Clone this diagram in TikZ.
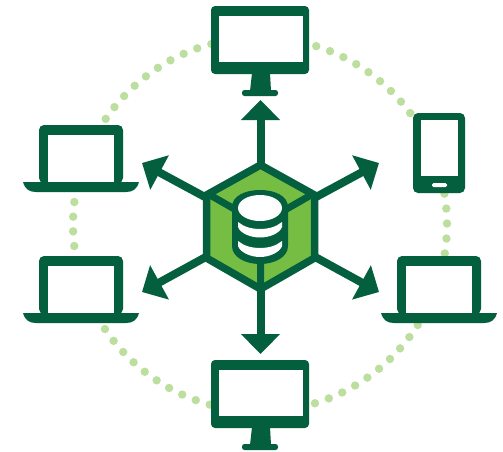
\documentclass[tikz,border=0pt]{standalone}
\usetikzlibrary{arrows.meta}
\definecolor{darkg}{HTML}{045F3F}
\definecolor{midg}{HTML}{76BE43}
\definecolor{dotg}{HTML}{BCDF9F}
\tikzset{
  x=1pt,y=-1pt,
  solid dark/.style={fill=darkg,draw=none},
  screen/.style={fill=white,draw=none},
  dotmark/.style={fill=dotg,draw=none},
  spoke/.style={draw=darkg,line width=8pt,-{Triangle[length=20pt,width=38pt]}},
  hexline/.style={draw=darkg,line width=7.5pt,line join=miter},
  monitor/.pic={
    \fill[solid dark,rounded corners=4pt] (0,0) rectangle (98,68);
    \fill[screen] (8,10) rectangle (92,56);
    \fill[solid dark] (41,67) -- (59,67) -- (60,85) -- (39,85) -- cycle;
    \fill[solid dark,rounded corners=2.5pt] (31,84) rectangle (67,90);
  },
  laptop/.pic={
    \fill[solid dark,rounded corners=5pt] (0,58) -- (0,0) -- (84,0) -- (84,58) -- cycle;
    \fill[screen] (9,10) rectangle (75,58);
    \fill[solid dark] (-16,57) -- (100,57) .. controls (98,64) and (94,67) .. (87,67) -- (-3,67) .. controls (-10,67) and (-14,64) .. (-16,57) -- cycle;
  }
}
\newcommand{\ringdots}[3]{% start angle, step, last index
  \foreach \k in {0,...,#3}{
    \pgfmathsetmacro{\ang}{#1+#2*\k}
    \fill[dotmark] ({260+187*cos(\ang)},{224.5+187*sin(\ang)}) circle (4.2);
  }
}
\begin{document}
\begin{tikzpicture}
\useasboundingbox (0,0) rectangle (503,451);
\fill[white] (0,0) rectangle (503,451);
% dotted ring
\ringdots{-9.5}{4.6}{4}
\ringdots{32.5}{4.49}{10}
\ringdots{105.6}{4.49}{9}
\ringdots{173.4}{4.5}{3}
\ringdots{214.4}{4.5}{9}
\ringdots{-72.5}{4.49}{8}
% arrows
\coordinate (hub) at (260.5,227);
\coordinate (n) at (260.5,100);
\coordinate (s) at (260.5,354);
\coordinate (ne) at (379,163);
\coordinate (se) at (379,292);
\coordinate (nw) at (142,163);
\coordinate (sw) at (142,292);
\foreach \e in {n,s,ne,se,nw,sw}{
  \draw[spoke] (hub) -- (\e);
}
% hexagon
\draw[hexline,fill=midg] (260.5,165) -- (314.5,195) -- (314.5,258) -- (260.5,289) -- (206.5,258) -- (206.5,195) -- cycle;
\draw[hexline,line width=7pt] (206.5,193) -- (260.5,224) -- (314.5,193) (260.5,224) -- (260.5,289);
% database
\fill[solid dark] (232,207) .. controls (232,196) and (245,190) .. (260,190) .. controls (275,190) and (288,196) .. (288,207) -- (288,246) .. controls (288,257) and (275,264) .. (260,264) .. controls (245,264) and (232,257) .. (232,246) -- cycle;
\fill[screen] (260,208) ellipse (22 and 13);
\fill[screen] (238,222) .. controls (244,227) and (252,229) .. (260,229) .. controls (268,229) and (276,227) .. (282,222) -- (282,227) .. controls (280,233) and (270,237.5) .. (260,237.5) .. controls (250,237.5) and (240,233) .. (238,227) -- cycle;
\fill[screen] (238,241) .. controls (244,246) and (252,248) .. (260,248) .. controls (268,248) and (276,246) .. (282,241) -- (282,246) .. controls (280,252) and (270,257) .. (260,257) .. controls (250,257) and (240,252) .. (238,246) -- cycle;
% devices
\pic (montop) at (211,6) {monitor};
\pic (monbot) at (211,360) {monitor};
\pic (lapnw) at (39,125) {laptop};
\pic (lapsw) at (39,256) {laptop};
\pic (lapse) at (397,256) {laptop};
% phone
\fill[solid dark,rounded corners=5pt] (413,113) rectangle (465,193);
\fill[screen] (421,120) rectangle (458,176);
\fill[screen,rounded corners=1.5pt] (432,183) rectangle (447,187);
\end{tikzpicture}
\end{document}
